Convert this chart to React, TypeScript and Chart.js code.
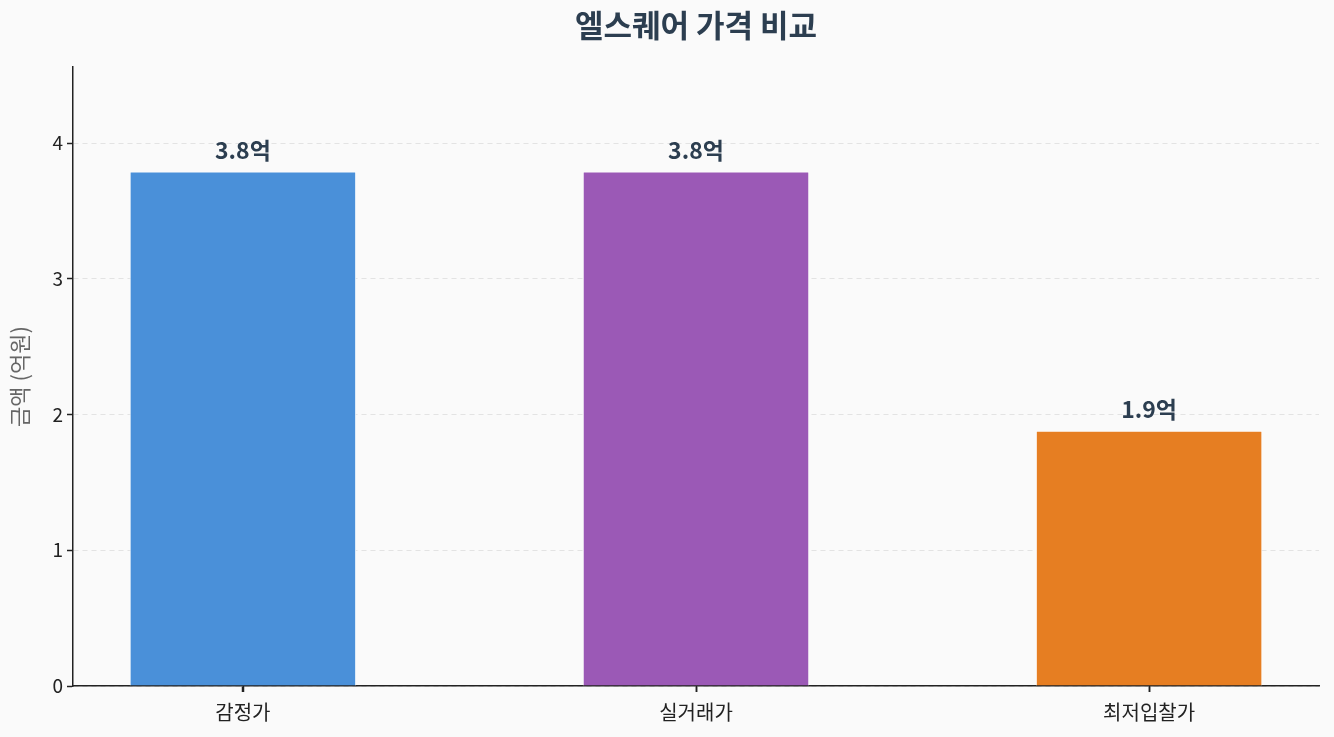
import { useEffect, useRef } from 'react';
import { Chart, registerables } from 'chart.js';

Chart.register(...registerables);

const categories = ['감정가', '실거래가', '최저입찰가'];
const prices = [3.79, 3.79, 1.88]; // 억원
const barColors = ['#4a90d9', '#9b59b6', '#e67e22'];
const yTicks = [0, 1, 2, 3, 4];

const FONT = "'Noto Sans CJK KR', 'Noto Sans', sans-serif";

const bgPlugin = {
    id: 'bg',
    beforeDraw: (chart: any) => {
        const ctx = chart.ctx;
        ctx.save();
        ctx.fillStyle = '#fafafa';
        ctx.fillRect(0, 0, chart.width, chart.height);
        ctx.restore();
    }
};

// title centred over the plot area, value labels above the bars, x tick marks
const textPlugin = {
    id: 'texts',
    afterDraw: (chart: any) => {
        const ctx = chart.ctx;
        const area = chart.chartArea;
        ctx.save();
        ctx.fillStyle = '#2c3e50';
        ctx.textAlign = 'center';
        ctx.textBaseline = 'middle';
        ctx.font = `bold 31px ${FONT}`;
        ctx.fillText('엘스퀘어 가격 비교', (area.left + area.right) / 2, 25);

        ctx.font = `bold 23px ${FONT}`;
        ctx.textBaseline = 'alphabetic';
        const meta = chart.getDatasetMeta(0);
        meta.data.forEach((bar: any, i: number) => {
            ctx.fillText(prices[i].toFixed(1) + '억', bar.x, bar.y - 13);
        });

        const xs = chart.scales.x;
        ctx.strokeStyle = '#222';
        ctx.lineWidth = 1.5;
        categories.forEach((_, i) => {
            const px = Math.round(xs.getPixelForValue(i)) + 0.5;
            ctx.beginPath();
            ctx.moveTo(px, area.bottom);
            ctx.lineTo(px, area.bottom + 6);
            ctx.stroke();
        });
        ctx.restore();
    }
};

const App = () => {
    const canvasRef = useRef<HTMLCanvasElement>(null);

    useEffect(() => {
        document.body.style.margin = '0';
        if (!canvasRef.current) return;

        const chart = new Chart(canvasRef.current, {
            type: 'bar',
            data: {
                datasets: [{
                    data: prices.map((v, i) => ({ x: i, y: v })),
                    backgroundColor: barColors,
                    borderColor: '#ffffff',
                    borderWidth: 1,
                    barPercentage: 1,
                    categoryPercentage: 0.5
                }]
            },
            options: {
                animation: false,
                responsive: false,
                maintainAspectRatio: false,
                layout: { padding: { top: 67, right: 15, left: 0, bottom: 0 } },
                plugins: {
                    legend: { display: false },
                    tooltip: { enabled: false },
                    title: { display: false }
                },
                scales: {
                    x: {
                        type: 'linear',
                        offset: false,
                        min: -0.375,
                        max: 2.375,
                        afterBuildTicks: (scale: any) => {
                            scale.ticks = categories.map((_, i) => ({ value: i }));
                        },
                        afterFit: (scale: any) => { scale.height = 51; },
                        ticks: {
                            callback: (v: any) => categories[v] ?? '',
                            color: '#222',
                            font: { family: FONT, size: 20 },
                            padding: 8,
                            maxRotation: 0
                        },
                        grid: {
                            offset: false,
                            drawOnChartArea: false,
                            drawTicks: true,
                            tickLength: 6,
                            tickColor: '#222',
                            tickWidth: 1.5
                        },
                        border: { display: true, color: '#222', width: 1.5 }
                    },
                    y: {
                        min: 0,
                        max: 4.56,
                        afterBuildTicks: (scale: any) => {
                            scale.ticks = yTicks.map(v => ({ value: v }));
                        },
                        afterFit: (scale: any) => { scale.width = 73; },
                        ticks: {
                            color: '#222',
                            font: { family: FONT, size: 19 },
                            padding: 4
                        },
                        grid: {
                            color: '#e3e3e3',
                            lineWidth: 1,
                            drawTicks: true,
                            tickLength: 6,
                            tickColor: '#222',
                            tickWidth: 1.5,
                            tickBorderDash: []
                        },
                        border: { display: true, color: '#222', width: 1.5, dash: [5, 4] },
                        title: {
                            display: true,
                            text: '금액 (억원)',
                            color: '#666',
                            font: { family: FONT, size: 22 },
                            padding: { top: 6, bottom: 4 }
                        }
                    }
                }
            },
            plugins: [bgPlugin, textPlugin]
        });

        return () => chart.destroy();
    }, []);

    return (
        <div style={{ width: 1334, height: 737 }}>
            <canvas ref={canvasRef} width={1334} height={737} />
        </div>
    );
};

export default App;
